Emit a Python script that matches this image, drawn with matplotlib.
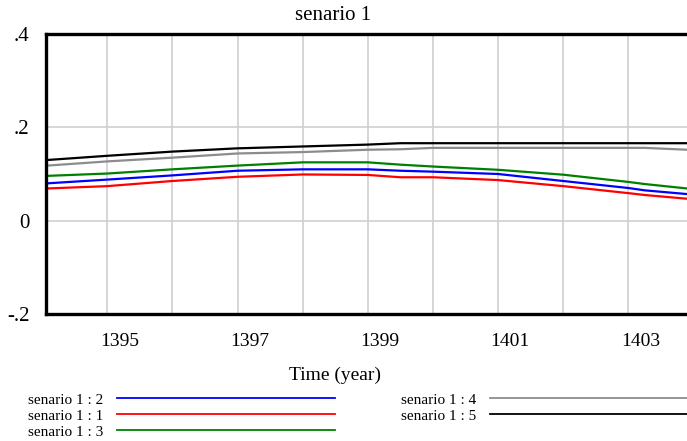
import matplotlib
matplotlib.use("Agg")
from matplotlib import pyplot as plt
from matplotlib.lines import Line2D
import matplotlib.transforms as mtransforms

plt.rc("font", family="Liberation Serif")

# time axis (year) and the five runs
time = [1394.08, 1395, 1396, 1397, 1398, 1399, 1399.5, 1400, 1401, 1402, 1403, 1403.25, 1403.9]
senario_2 = [0.080, 0.088, 0.097, 0.107, 0.110, 0.110, 0.107, 0.105, 0.100, 0.085, 0.070, 0.065, 0.057]
senario_1 = [0.069, 0.074, 0.085, 0.094, 0.099, 0.098, 0.093, 0.093, 0.087, 0.074, 0.059, 0.055, 0.047]
senario_3 = [0.096, 0.101, 0.110, 0.118, 0.125, 0.125, 0.120, 0.116, 0.109, 0.0985, 0.083, 0.0785, 0.069]
senario_4 = [0.118, 0.127, 0.135, 0.144, 0.147, 0.152, 0.153, 0.156, 0.156, 0.156, 0.156, 0.156, 0.152]
senario_5 = [0.130, 0.139, 0.148, 0.155, 0.159, 0.163, 0.166, 0.166, 0.166, 0.166, 0.166, 0.166, 0.166]

x_grid = list(range(1395, 1404))
x_labels = ["1395", "", "1397", "", "1399", "", "1401", "", "1403"]
y_ticks = [-0.2, 0, 0.2, 0.4]
y_labels = ["-.2", "0", ".2", ".4"]

series = [
    ("senario 1 : 2", senario_2, "#0000ff"),
    ("senario 1 : 1", senario_1, "#ff0000"),
    ("senario 1 : 3", senario_3, "#008000"),
    ("senario 1 : 4", senario_4, "#8c8c8c"),
    ("senario 1 : 5", senario_5, "#000000"),
]

fig = plt.figure(figsize=(6.87, 4.41), dpi=100)
ax = fig.add_axes([46 / 687, 1 - 314 / 441, 1 - 46 / 687, 280 / 441])

handles = []
for name, vals, col in series:
    ax.plot(time, vals, color=col, lw=1.6, zorder=3)
    handles.append(Line2D([], [], color=col, lw=1.3, label=name))

ax.set_xlim(1394.06, 1403.9)
ax.set_ylim(-0.2, 0.4)

ax.set_xticks(x_grid)
ax.set_xticklabels(x_labels, fontsize=14)
ax.set_yticks(y_ticks)
ax.set_yticklabels(y_labels, fontsize=15)
ax.tick_params(axis="both", length=0)
ax.tick_params(axis="x", pad=14)
ax.tick_params(axis="y", pad=12)
ax.grid(True, color="#cfcfcf", lw=1.2)

for lab in ax.get_xticklabels():
    lab.set_transform(lab.get_transform() + mtransforms.ScaledTranslation(0.12, 0, fig.dpi_scale_trans))

for s in ["left", "top", "bottom"]:
    ax.spines[s].set_linewidth(2.4)
    ax.spines[s].set_zorder(4)
ax.spines["right"].set_visible(False)

fig.text(0.485, 1 - 16 / 441, "senario 1", ha="center", va="center", fontsize=15)
fig.text(0.488, 1 - 375 / 441, "Time (year)", ha="center", va="center", fontsize=14)

fig.legend(handles=handles, ncol=2, loc="upper left", bbox_to_anchor=(28 / 687, 1 - 393 / 441),
           frameon=False, fontsize=11, markerfirst=False, handlelength=14.3, handletextpad=0.9,
           columnspacing=4.3, labelspacing=0.15, borderpad=0, borderaxespad=0)

fig.savefig("out.png", dpi=100)
